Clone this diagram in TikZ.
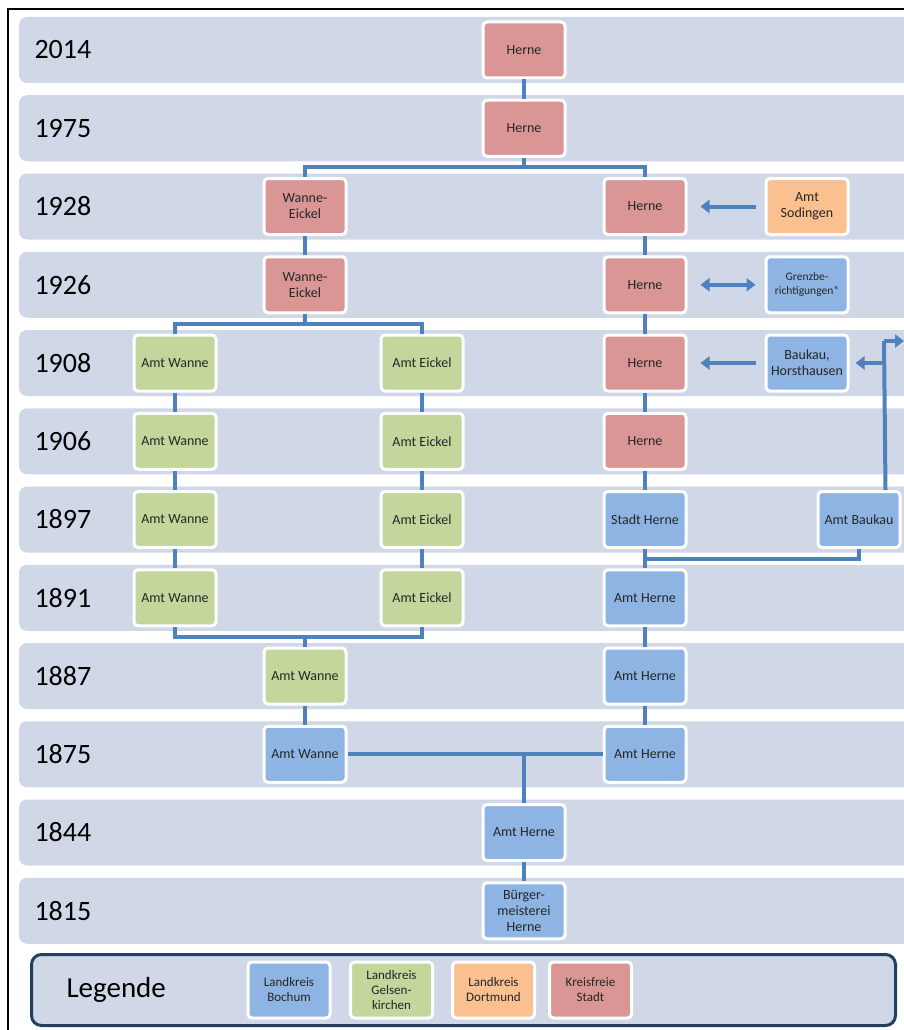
\documentclass[tikz,border=0pt]{standalone}
\usepackage{fontspec}
\setmainfont{Carlito}
\usetikzlibrary{arrows.meta}

\definecolor{bandgray}{HTML}{D0D8E8}
\definecolor{kreisfrei}{HTML}{D99694}
\definecolor{gelsen}{HTML}{C3D69B}
\definecolor{bochum}{HTML}{8EB4E3}
\definecolor{dortmund}{HTML}{FAC090}
\definecolor{linkblue}{HTML}{4F81BD}
\definecolor{navy}{HTML}{243F60}

\begin{document}
\begin{tikzpicture}[
  x=1pt, y=-1pt,
  band/.style={fill=bandgray, rounded corners=8pt, minimum width=911pt,
    minimum height=66pt, text width=880pt, inner sep=0pt, align=left,
    font=\fontsize{28}{30}\selectfont},
  unit/.style={draw=white, line width=3pt, rounded corners=4pt,
    minimum width=82pt, minimum height=56pt, inner sep=2pt, align=center,
    text=black!85, font=\fontsize{14}{16}\selectfont},
  stadt/.style={unit, fill=kreisfrei},
  lkgelsen/.style={unit, fill=gelsen},
  lkbochum/.style={unit, fill=bochum},
  lkdortmund/.style={unit, fill=dortmund},
  keybox/.style={font=\fontsize{13}{15}\selectfont},
  link/.style={draw=linkblue, line width=4pt},
  arr/.style={link, -{Triangle[width=13pt,length=9pt]}},
  darr/.style={link, {Triangle[width=13pt,length=9pt]}-{Triangle[width=13pt,length=9pt]}},
]

  \useasboundingbox (0,0) rectangle (904,1030);
  \clip (0,0) rectangle (904,1030);

  % Frame
  \draw[line width=2pt] (8,9) rectangle (930,1050);

  % Year bands
  \node[band] (r2014) at (474.5,50) {2014};
  \node[band] (r1975) at (474.5,128.25) {1975};
  \node[band] (r1928) at (474.5,206.5) {1928};
  \node[band] (r1926) at (474.5,284.75) {1926};
  \node[band] (r1908) at (474.5,363) {1908};
  \node[band] (r1906) at (474.5,441.25) {1906};
  \node[band] (r1897) at (474.5,519.5) {1897};
  \node[band] (r1891) at (474.5,597.75) {1891};
  \node[band] (r1887) at (474.5,676) {1887};
  \node[band] (r1875) at (474.5,754.25) {1875};
  \node[band] (r1844) at (474.5,832.5) {1844};
  \node[band] (r1815) at (474.5,910.75) {1815};

  % Herne column
  \node[stadt] (h2014) at (524,50) {Herne};
  \node[stadt] (h1975) at (524,128.25) {Herne};
  \node[stadt] (h1928) at (645,206.5) {Herne};
  \node[stadt] (h1926) at (645,284.75) {Herne};
  \node[stadt] (h1908) at (645,363) {Herne};
  \node[stadt] (h1906) at (645,441.25) {Herne};
  \node[lkbochum] (sh1897) at (645,519.5) {Stadt Herne};
  \node[lkbochum] (ah1891) at (645,597.75) {Amt Herne};
  \node[lkbochum] (ah1887) at (645,676) {Amt Herne};
  \node[lkbochum] (ah1875) at (645,754.25) {Amt Herne};
  \node[lkbochum] (ah1844) at (524,832.5) {Amt Herne};
  \node[lkbochum] (bm1815) at (524,910.75) {Bürger-\\meisterei\\Herne};

  % Wanne-Eickel and its predecessors
  \node[stadt] (we1928) at (305,206.5) {Wanne-\\Eickel};
  \node[stadt] (we1926) at (305,284.75) {Wanne-\\Eickel};
  \node[lkgelsen] (aw1908) at (175,363) {Amt Wanne};
  \node[lkgelsen] (ae1908) at (422,363) {Amt Eickel};
  \node[lkgelsen] (aw1906) at (175,441.25) {Amt Wanne};
  \node[lkgelsen] (ae1906) at (422,441.25) {Amt Eickel};
  \node[lkgelsen] (aw1897) at (175,519.5) {Amt Wanne};
  \node[lkgelsen] (ae1897) at (422,519.5) {Amt Eickel};
  \node[lkgelsen] (aw1891) at (175,597.75) {Amt Wanne};
  \node[lkgelsen] (ae1891) at (422,597.75) {Amt Eickel};
  \node[lkgelsen] (aw1887) at (305,676) {Amt Wanne};
  \node[lkbochum] (aw1875) at (305,754.25) {Amt Wanne};

  % Side units
  \node[lkdortmund] (sod1928) at (807,206.5) {Amt\\Sodingen};
  \node[lkbochum, font=\fontsize{11.5}{14}\selectfont] (gb1926) at (807,284.75) {Grenzbe-\\richtigungen*};
  \node[lkbochum] (bh1908) at (807,363) {Baukau,\\Horsthausen};
  \node[lkbochum] (ab1897) at (859,519.5) {Amt Baukau};

  % Split and merge points
  \coordinate (split1) at (524,167.4);
  \coordinate (split2) at (305,323.9);
  \coordinate (merge1) at (305,636.9);
  \coordinate (bkjoin) at (645,558.6);
  \coordinate (bksplit) at (884,341);
  \coordinate (bkarm) at (884,363);
  \coordinate (bkout) at (904,341);
  \coordinate (split4) at (524,754.25);

  % Connections
  \draw[link] (h2014) -- (h1975);
  \draw[link] (h1975) -- (split1);
  \draw[link] (we1928.north) |- (split1) -| (h1928.north);
  \draw[link] (we1928) -- (we1926);
  \draw[link] (h1928) -- (h1926);
  \draw[link] (we1926) -- (split2);
  \draw[link] (aw1908.north) |- (split2) -| (ae1908.north);
  \draw[link] (h1926) -- (h1908);
  \draw[link] (h1908) -- (h1906);
  \draw[link] (h1906) -- (sh1897);
  \draw[link] (sh1897) -- (ah1891);
  \draw[link] (ah1891) -- (ah1887);
  \draw[link] (ah1887) -- (ah1875);
  \draw[link] (aw1908) -- (aw1906);
  \draw[link] (aw1906) -- (aw1897);
  \draw[link] (aw1897) -- (aw1891);
  \draw[link] (ae1908) -- (ae1906);
  \draw[link] (ae1906) -- (ae1897);
  \draw[link] (ae1897) -- (ae1891);
  \draw[link] (aw1891.south) |- (merge1) -| (ae1891.south);
  \draw[link] (merge1) -- (aw1887);
  \draw[link] (aw1887) -- (aw1875);
  \draw[link] (aw1875) -- (ah1875);
  \draw[link] (split4) -- (ah1844);
  \draw[link] (ah1844) -- (bm1815);

  % Amt Baukau
  \draw[link] (ab1897.south) |- (bkjoin);
  \draw[link] ([xshift=-16pt]ab1897.north east) -- (bksplit);
  \draw[arr] (bksplit) -- (bkout);
  \draw[arr, shorten >=6pt] (bkarm) -- (bh1908);

  % Transfers to Herne
  \draw[arr, shorten >=13pt, shorten <=9pt] (sod1928) -- (h1928);
  \draw[darr, shorten >=9pt, shorten <=13pt] (h1926) -- (gb1926);
  \draw[arr, shorten >=13pt, shorten <=9pt] (bh1908) -- (h1908);

  % Legend
  \node[draw=navy, fill=bandgray, line width=3pt, rounded corners=10pt,
    minimum width=864pt, minimum height=71pt] (legend) at (463.5,990) {};
  \node[anchor=west, font=\fontsize{29}{32}\selectfont] (legtitle) at (63,990) {Legende};
  \node[lkbochum, keybox] (keybochum) at (289,990) {Landkreis\\Bochum};
  \node[lkgelsen, keybox] (keygelsen) at (391.5,990) {Landkreis\\Gelsen-\\kirchen};
  \node[lkdortmund, keybox] (keydortmund) at (493.5,990) {Landkreis\\Dortmund};
  \node[stadt, keybox] (keystadt) at (590.5,990) {Kreisfreie\\Stadt};

\end{tikzpicture}
\end{document}
